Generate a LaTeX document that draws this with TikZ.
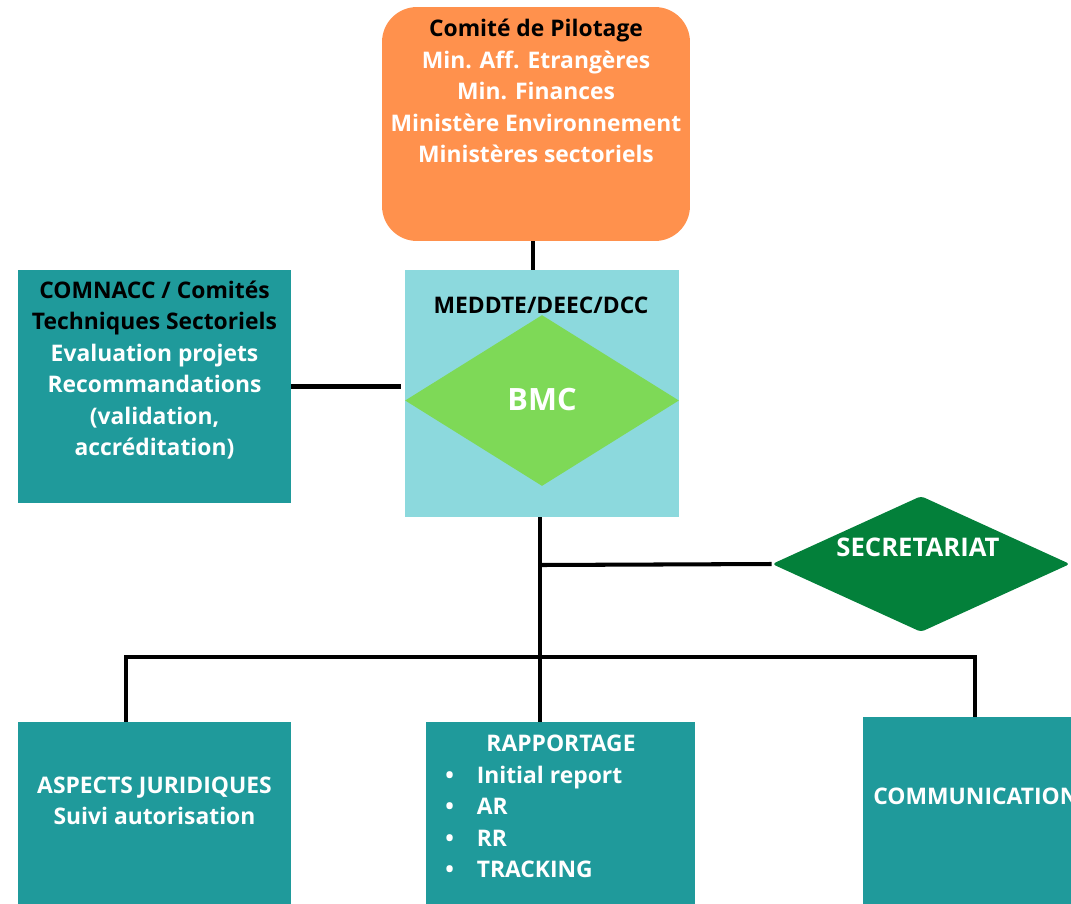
\documentclass[tikz,border=0pt]{standalone}
\usepackage{fontspec}
\setmainfont{Open Sans}
\usetikzlibrary{shapes.geometric}
\definecolor{pilotorange}{HTML}{FF914D}
\definecolor{meddteblue}{HTML}{8CD9DD}
\definecolor{bmcgreen}{HTML}{7ED957}
\definecolor{secgreen}{HTML}{03803A}
\definecolor{teal}{HTML}{1F9A9B}
\begin{document}
\begin{tikzpicture}[x=0.02cm, y=-0.02cm]
      \tikzset{box/.style={draw=none, fill=teal, inner sep=0pt},
               txt/.style={text=white, inner sep=0pt, align=center, font=\bfseries\fontsize{13}{17.9}\selectfont},
               diam/.style={diamond, draw=none, inner sep=0pt, aspect=1.6},
               link/.style={line width=2.3pt, line join=miter}}
      \useasboundingbox (0,0) rectangle (1071,903);
      \clip (0,0) rectangle (1071,903);
%% Boxes
	%haut
      	\node[box, fill=pilotorange, rounded corners=0.7cm, minimum width=6.16cm, minimum height=4.68cm] (pilot) at (536,124) {};
      	\node[box, fill=meddteblue, minimum width=5.48cm, minimum height=4.94cm] (meddte) at (542,393.5) {};
      	\node[diam, fill=bmcgreen, minimum width=5.48cm, minimum height=3.42cm] (bmc) at (542,400.5) {};
      	\node[box, minimum width=5.46cm, minimum height=4.66cm] (comnacc) at (154.5,386.5) {};
      	\node[diam, fill=secgreen, rounded corners=2pt, minimum width=5.96cm, minimum height=2.72cm] (sec) at (921,564) {};
	%bas
      	\node[box, minimum width=5.46cm, minimum height=4cm] (aspects) at (154.5,822) {};
      	\node[box, minimum width=5.38cm, minimum height=4cm] (rapp) at (560.5,822) {};
      	\node[box, minimum width=5.48cm, minimum height=4.2cm] (comm) at (1000,822) {};
%% Texts
      	\node[txt] (pilotText) at (536,91) {\textcolor{black}{Comité de Pilotage}\\Min. Aff. Etrangères\\Min. Finances\\Ministère Environnement\\Ministères sectoriels};
      	\node[txt, text=black] (meddteText) at (541,305) {MEDDTE/DEEC/DCC};
      	\node[txt, font=\bfseries\fontsize{17.5}{20}\selectfont] (bmcText) at (542,400) {BMC};
      	\node[txt] (comnaccText) at (154.5,370) {\textcolor{black}{COMNACC / Comités}\\\textcolor{black}{Techniques Sectoriels}\\Evaluation projets\\Recommandations\\(validation,\\accréditation)};
      	\node[txt, font=\bfseries\fontsize{14.6}{17}\selectfont] (secText) at (918,547) {SECRETARIAT};
      	\node[txt] (aspectsText) at (154.5,801) {ASPECTS JURIDIQUES\\Suivi autorisation};
      	\node[txt] (rappTitle) at (561,743) {RAPPORTAGE};
      	\node[txt, align=left, anchor=west] (rappList) at (445,822) {\textbullet\hspace{13pt}Initial report\\\textbullet\hspace{13pt}AR\\\textbullet\hspace{13pt}RR\\\textbullet\hspace{13pt}TRACKING};
      	\node[txt, anchor=west] (commText) at (873,796) {COMMUNICATION};
%% Lines
      	\coordinate (jtop) at (533,241);
      	\coordinate (jsec) at (540,565);
      	\coordinate (jbar) at (540,657);
      	\coordinate (dropA) at (126,657);
      	\coordinate (dropC) at (975,657);
		\path [link] (jtop |- pilot.south) edge (jtop |- meddte.north);
		\path [link] (comnacc.east) edge[shorten >=2pt] (comnacc.east -| meddte.west);
		\path [link] (jbar |- meddte.south) edge (jbar |- rapp.north);
		\path [link] (jsec) edge (sec.west);
		\draw [link] (dropA |- aspects.north) -- (dropA) -- (dropC) -- (dropC |- comm.north);
\end{tikzpicture}
\end{document}
